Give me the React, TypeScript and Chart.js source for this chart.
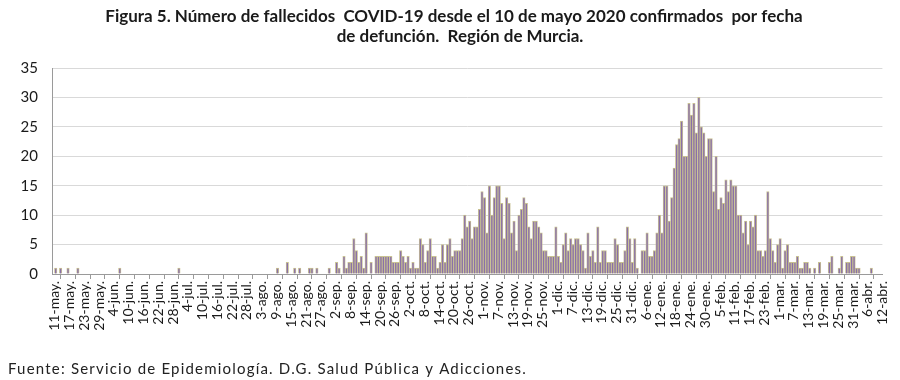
import React, { useEffect, useRef } from 'react';
import { Chart, registerables } from 'chart.js';

Chart.register(...registerables);

const titleLines = [
  'Figura 5. Número de fallecidos  COVID-19 desde el 10 de mayo 2020 confirmados  por fecha',
  'de defunción.  Región de Murcia.',
];
const sourceNote = 'Fuente: Servicio de Epidemiología. D.G. Salud Pública y Adicciones.';

const tickLabels = [
  '11-may.', '17-may.', '23-may.', '29-may.', '4-jun.', '10-jun.', '16-jun.', '22-jun.', '28-jun.',
  '4-jul.', '10-jul.', '16-jul.', '22-jul.', '28-jul.', '3-ago.', '9-ago.', '15-ago.', '21-ago.', '27-ago.',
  '2-sep.', '8-sep.', '14-sep.', '20-sep.', '26-sep.', '2-oct.', '8-oct.', '14-oct.', '20-oct.', '26-oct.',
  '1-nov.', '7-nov.', '13-nov.', '19-nov.', '25-nov.', '1-dic.', '7-dic.', '13-dic.', '19-dic.', '25-dic.',
  '31-dic.', '6-ene.', '12-ene.', '18-ene.', '24-ene.', '30-ene.', '5-feb.', '11-feb.', '17-feb.', '23-feb.',
  '1-mar.', '7-mar.', '13-mar.', '19-mar.', '25-mar.', '31-mar.', '6-abr.', '12-abr.',
];

const monthNames = ['ene.', 'feb.', 'mar.', 'abr.', 'may.', 'jun.', 'jul.', 'ago.', 'sep.', 'oct.', 'nov.', 'dic.'];

// Daily deaths by date of death, 11-may-2020 .. 12-abr-2021, one list per month
const mayValues = [0, 1, 0, 1, 0, 0, 1, 0, 0, 0, 1, 0, 0, 0, 0, 0, 0, 0, 0, 0, 0]; // 11-31 may
const junValues = [0, 0, 0, 0, 0, 0, 1, 0, 0, 0, 0, 0, 0, 0, 0, 0, 0, 0, 0, 0, 0, 0, 0, 0, 0, 0, 0, 0, 0, 0];
const julValues = [1, 0, 0, 0, 0, 0, 0, 0, 0, 0, 0, 0, 0, 0, 0, 0, 0, 0, 0, 0, 0, 0, 0, 0, 0, 0, 0, 0, 0, 0, 0];
const agoValues = [0, 0, 0, 0, 0, 0, 0, 0, 0, 1, 0, 0, 0, 2, 0, 0, 1, 0, 1, 0, 0, 0, 1, 1, 0, 1, 0, 0, 0, 0, 1];
const sepValues = [0, 0, 2, 1, 0, 3, 1, 2, 2, 6, 4, 2, 3, 1, 7, 0, 2, 0, 3, 3, 3, 3, 3, 3, 3, 2, 2, 2, 4, 3];
const octValues = [2, 3, 1, 2, 1, 1, 6, 5, 2, 4, 6, 3, 3, 1, 2, 5, 2, 5, 6, 3, 4, 4, 4, 6, 10, 8, 9, 6, 8, 8, 11];
const novValues = [14, 13, 7, 15, 10, 13, 15, 15, 12, 6, 13, 12, 7, 9, 4, 10, 11, 13, 12, 8, 6, 9, 9, 8, 7, 4, 4, 3, 3, 3];
const dicValues = [8, 3, 2, 5, 7, 4, 6, 5, 6, 6, 5, 4, 1, 7, 3, 4, 2, 8, 2, 4, 4, 2, 2, 2, 6, 5, 2, 2, 4, 8, 6];
const eneValues = [2, 6, 1, 0, 4, 4, 7, 3, 3, 4, 7, 10, 7, 15, 15, 9, 13, 18, 22, 23, 26, 20, 20, 29, 27, 29, 24, 30, 25, 24, 20];
const febValues = [23, 23, 14, 20, 11, 13, 12, 16, 14, 16, 15, 15, 10, 10, 7, 9, 5, 9, 8, 10, 4, 4, 3, 4, 14, 6, 4, 2];
const marValues = [5, 6, 1, 4, 5, 2, 2, 2, 3, 1, 1, 2, 2, 1, 0, 1, 0, 2, 0, 0, 0, 2, 3, 0, 0, 1, 3, 0, 2, 2, 3];
const abrValues = [3, 1, 1, 0, 0, 0, 0, 1, 0, 0, 0, 0];

const deaths = [
  ...mayValues, ...junValues, ...julValues, ...agoValues, ...sepValues, ...octValues,
  ...novValues, ...dicValues, ...eneValues, ...febValues, ...marValues, ...abrValues,
];

const startDay = new Date(2020, 4, 11);
const categories = deaths.map((_, i) => {
  const d = new Date(startDay.getFullYear(), startDay.getMonth(), startDay.getDate() + i);
  return `${d.getDate()}-${monthNames[d.getMonth()]}`;
});

const yMax = 35;
const yStep = 5;

const FONT = 'Lato, "Open Sans", "Noto Sans", sans-serif';

const textPlugin = {
  id: 'textPlugin',
  afterDraw(chart: any) {
    const ctx = chart.ctx as CanvasRenderingContext2D;
    ctx.save();
    ctx.fillStyle = '#1a1a1a';
    ctx.font = `bold 17px ${FONT}`;
    ctx.textAlign = 'center';
    ctx.textBaseline = 'middle';
    ctx.fillText(titleLines[0], 454, 17);
    ctx.fillText(titleLines[1], 460, 37);
    ctx.font = `15px ${FONT}`;
    ctx.textAlign = 'left';
    (ctx as any).letterSpacing = '1.2px';
    ctx.fillStyle = '#222';
    ctx.fillText(sourceNote, 8, 369);
    ctx.restore();
  },
};

export default function App() {
  const canvasRef = useRef<HTMLCanvasElement | null>(null);

  useEffect(() => {
    if (!canvasRef.current) return;
    const chart = new Chart(canvasRef.current, {
      type: 'bar',
      data: {
        labels: categories,
        datasets: [
          {
            data: deaths,
            backgroundColor: '#8a70a8',
            borderColor: '#c8c192',
            borderWidth: { top: 1, left: 0.9, right: 0.9, bottom: 0 },
            borderSkipped: 'start',
            barPercentage: 1,
            categoryPercentage: 1,
          },
        ],
      },
      options: {
        animation: false,
        responsive: false,
        maintainAspectRatio: false,
        layout: { padding: { top: 68, left: 8, right: 12, bottom: 0 } },
        plugins: {
          legend: { display: false },
          title: { display: false },
          tooltip: { enabled: false },
        },
        scales: {
          x: {
            offset: true,
            afterFit: (scale: any) => {
              scale.height = 106;
            },
            grid: {
              display: true,
              drawOnChartArea: false,
              drawTicks: true,
              tickLength: 5,
              color: '#9a9a9a',
              offset: true,
            },
            border: { display: true, color: '#9a9a9a' },
            ticks: {
              autoSkip: false,
              minRotation: 90,
              maxRotation: 90,
              labelOffset: 1.5,
              padding: 2,
              color: '#1a1a1a',
              font: { family: FONT, size: 14 },
              callback: (_v: any, idx: number) => (idx % 6 === 0 ? tickLabels[idx / 6] : null),
            },
          },
          y: {
            min: 0,
            max: yMax,
            afterFit: (scale: any) => {
              scale.width = 44;
            },
            grid: { color: '#d9d9d9', drawTicks: false },
            border: { display: true, color: '#9a9a9a' },
            ticks: {
              stepSize: yStep,
              padding: 14,
              color: '#1a1a1a',
              font: { family: FONT, size: 15 },
            },
          },
        },
      },
      plugins: [textPlugin],
    });
    return () => chart.destroy();
  }, []);

  return (
    <div style={{ position: 'fixed', left: 0, top: 0, width: 900, height: 380, background: '#fff' }}>
      <canvas ref={canvasRef} width={900} height={380} style={{ width: 900, height: 380 }} />
    </div>
  );
}
